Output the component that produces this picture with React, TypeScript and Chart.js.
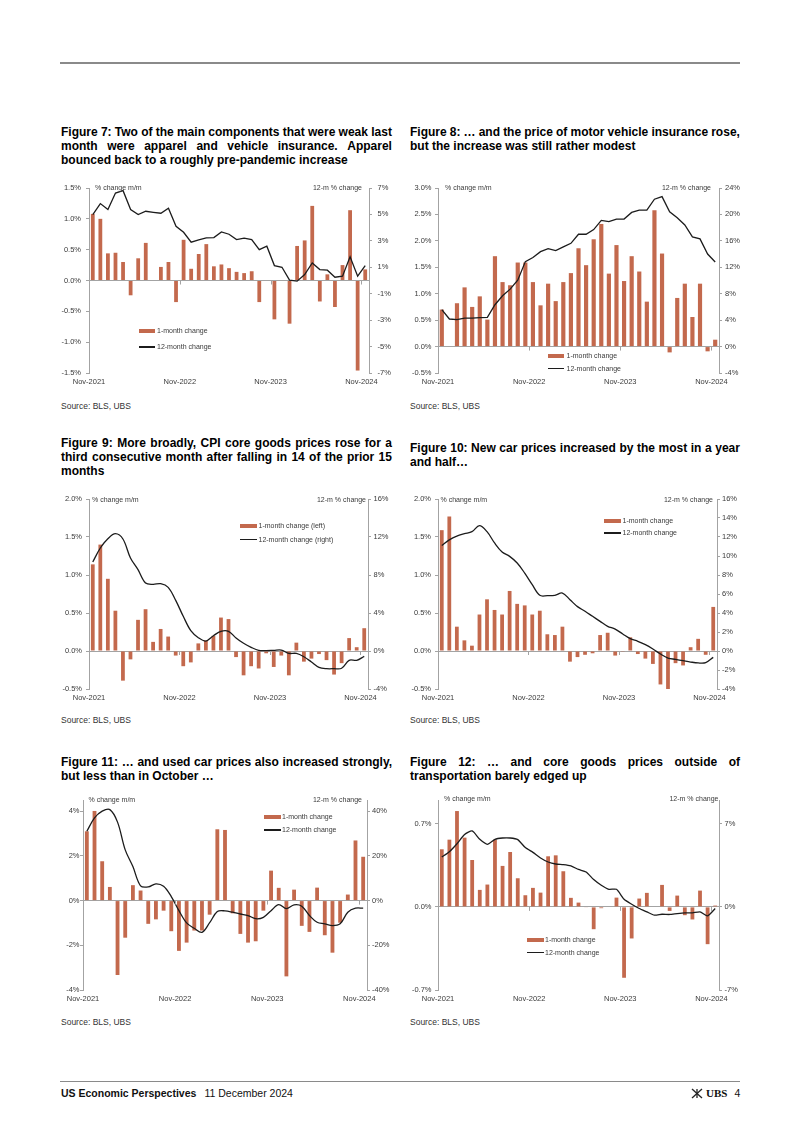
import React, { useEffect, useRef } from "react";
import { Chart, registerables } from "chart.js";

Chart.register(...registerables);

// ---------------- DATA ----------------
const months = [
  "Nov-2021", "Dec-2021",
  "Jan-2022", "Feb-2022", "Mar-2022", "Apr-2022", "May-2022", "Jun-2022",
  "Jul-2022", "Aug-2022", "Sep-2022", "Oct-2022", "Nov-2022", "Dec-2022",
  "Jan-2023", "Feb-2023", "Mar-2023", "Apr-2023", "May-2023", "Jun-2023",
  "Jul-2023", "Aug-2023", "Sep-2023", "Oct-2023", "Nov-2023", "Dec-2023",
  "Jan-2024", "Feb-2024", "Mar-2024", "Apr-2024", "May-2024", "Jun-2024",
  "Jul-2024", "Aug-2024", "Sep-2024", "Oct-2024", "Nov-2024",
];
const xTickLabels = ["Nov-2021", "Nov-2022", "Nov-2023", "Nov-2024"];

// Figure 7: apparel / vehicle insurance
const fig7Bars = [1.08, 1.0, 0.44, 0.45, 0.3, -0.24, 0.36, 0.61, 0.0, 0.22, 0.3, -0.35, 0.66, 0.19, 0.43, 0.59, 0.23, 0.26, 0.2, 0.14, 0.12, 0.15, -0.35, 0.0, -0.63, 0.0, -0.7, 0.56, 0.65, 1.21, -0.34, 0.1, -0.43, 0.25, 1.14, -1.46, 0.18];
const fig7Line = [4.99, 5.82, 5.37, 6.62, 6.8, 5.37, 4.99, 5.24, 5.16, 5.09, 5.47, 4.1, 3.65, 2.9, 3.07, 3.22, 3.25, 3.68, 3.5, 3.1, 3.2, 3.1, 2.34, 2.6, 1.13, 1.0, 0.03, -0.05, 0.45, 1.33, 0.83, 0.78, 0.25, 0.33, 1.79, 0.33, 1.13];
const fig7LeftTicks = [-1.5, -1.0, -0.5, 0, 0.5, 1.0, 1.5];
const fig7RightTicks = [-7, -5, -3, -1, 1, 3, 5, 7];

// Figure 8: motor vehicle insurance
const fig8Bars = [0.7, 0.0, 0.82, 1.12, 0.75, 0.95, 0.51, 1.71, 1.22, 1.16, 1.59, 1.59, 1.22, 0.78, 1.19, 0.86, 1.22, 1.39, 1.86, 1.54, 2.03, 2.32, 1.38, 1.92, 1.24, 1.71, 1.42, 0.85, 2.58, 1.76, -0.11, 0.92, 1.19, 0.56, 1.19, -0.09, 0.13];
const fig8Line = [5.58, 4.17, 4.07, 4.32, 4.32, 4.37, 4.42, 6.33, 7.69, 8.69, 10.05, 12.86, 13.47, 14.37, 14.82, 14.52, 15.08, 15.63, 17.0, 17.0, 17.7, 19.1, 18.9, 19.3, 19.3, 20.3, 20.65, 20.65, 22.3, 22.7, 20.4, 19.5, 18.4, 16.6, 16.3, 14.0, 12.8];
const fig8LeftTicks = [-0.5, 0, 0.5, 1.0, 1.5, 2.0, 2.5, 3.0];
const fig8RightTicks = [-4, 0, 4, 8, 12, 16, 20, 24];

// Figure 9: CPI core goods
const fig9Bars = [1.14, 1.4, 0.95, 0.53, -0.39, -0.11, 0.41, 0.55, 0.12, 0.29, 0.19, -0.06, -0.2, -0.15, 0.1, 0.14, 0.2, 0.44, 0.42, -0.08, -0.32, -0.2, -0.23, -0.03, -0.21, -0.06, -0.32, 0.11, -0.14, -0.1, -0.04, -0.12, -0.31, -0.16, 0.17, 0.05, 0.3];
const fig9Line = [9.37, 10.84, 11.82, 12.35, 11.79, 9.79, 8.56, 7.16, 7.02, 7.09, 6.7, 5.33, 3.65, 2.14, 1.4, 1.05, 1.61, 2.07, 2.07, 1.37, 0.81, 0.39, 0.07, 0.04, 0.07, 0.1, -0.25, -0.25, -0.6, -1.16, -1.72, -1.86, -1.86, -1.82, -0.98, -0.98, -0.56];
const fig9LeftTicks = [-0.5, 0, 0.5, 1.0, 1.5, 2.0];
const fig9RightTicks = [-4, 0, 4, 8, 12, 16];

// Figure 10: new cars
const fig10Bars = [1.59, 1.77, 0.32, 0.14, 0.07, 0.48, 0.68, 0.54, 0.48, 0.79, 0.62, 0.6, 0.48, 0.53, 0.22, 0.21, 0.32, -0.14, -0.08, -0.05, -0.03, 0.21, 0.24, -0.06, -0.01, 0.18, -0.04, -0.1, -0.17, -0.44, -0.5, -0.16, -0.19, 0.05, 0.16, -0.05, 0.58];
const fig10Line = [11.1, 11.7, 12.1, 12.35, 12.56, 13.2, 12.56, 11.37, 10.42, 9.96, 9.26, 8.2, 6.98, 5.86, 5.82, 5.86, 6.1, 5.4, 4.67, 4.18, 3.65, 3.12, 2.6, 2.3, 1.79, 1.3, 1.02, 0.67, 0.21, -0.32, -0.74, -0.88, -1.02, -1.16, -1.26, -1.23, -0.67];
const fig10LeftTicks = [-0.5, 0, 0.5, 1.0, 1.5, 2.0];
const fig10RightTicks = [-4, -2, 0, 2, 4, 6, 8, 10, 12, 14, 16];

// Figure 11: used cars
const fig11Bars = [3.1, 4.01, 1.76, 0.61, -3.33, -1.66, 0.69, 0.45, -1.04, -0.84, -0.45, -1.37, -2.25, -1.88, -1.34, -1.34, -0.63, 3.19, 3.16, -0.57, -1.49, -1.88, -1.82, -0.45, 1.34, 0.57, -3.39, 0.49, -1.13, -1.4, 0.58, -1.55, -2.33, -0.99, 0.27, 2.69, 1.96];
const fig11Line = [31.0, 37.0, 40.0, 40.7, 35.1, 22.7, 15.2, 6.6, 6.1, 7.5, 6.4, 1.8, -4.5, -10.0, -12.4, -14.2, -9.9, -4.9, -4.6, -5.2, -6.0, -6.7, -8.1, -7.5, -4.5, -1.8, -3.6, -1.9, -2.5, -6.7, -9.7, -10.4, -11.2, -10.4, -5.2, -3.4, -3.4];
const fig11LeftTicks = [-4, -2, 0, 2, 4];
const fig11RightTicks = [-40, -20, 0, 20, 40];

// Figure 12: core goods ex transportation
const fig12Bars = [0.485, 0.566, 0.807, 0.583, 0.395, 0.143, 0.188, 0.566, 0.345, 0.462, 0.241, 0.098, 0.16, 0.12, 0.426, 0.434, 0.3, 0.076, 0.036, -0.005, -0.188, -0.011, 0.0, 0.078, -0.597, -0.266, 0.07, 0.118, 0.0, 0.185, -0.034, 0.095, -0.07, -0.106, 0.137, -0.314, 0.011];
const fig12Line = [4.2, 4.65, 5.32, 6.1, 6.39, 5.69, 5.27, 5.69, 5.8, 5.8, 5.66, 4.99, 4.59, 4.12, 3.78, 3.61, 3.56, 3.45, 3.15, 2.94, 2.3, 1.82, 1.48, 1.48, 0.64, 0.22, -0.14, -0.42, -0.7, -0.62, -0.64, -0.56, -0.5, -0.5, -0.42, -0.76, -0.14];
const fig12LeftTicks = [-0.7, 0, 0.7];
const fig12RightTicks = [-7, 0, 7];

const legendStd = ["1-month change", "12-month change"];
const legendLR = ["1-month change (left)", "12-month change (right)"];

// ---------------- STYLE ----------------
const BAR = "#C3694D";
const LINE = "#1c1c1c";
const AXIS = "#a3a3a3";
const TXT = "#3a3a3a";
const FONT = '"Liberation Sans", Arial, Helvetica, sans-serif';

type PanelCfg = {
  box: { x: number; y: number; w: number; h: number };
  axisL: number;
  axisR: number;
  yTop: number;
  yBot: number;
  bars: number[];
  line: number[];
  lMin: number; lMax: number; lTicks: number[]; lDec: number;
  rMin: number; rMax: number; rTicks: number[]; rDec: number;
  gapL: number; gapR: number;
  tension: number;
  barPct: number;
  legend: string[];
  noteL: { x: number; y: number };
  noteR: { x: number; y: number };
  leg: { x: number; w: number; y1: number; y2: number; tx: number };
};

const panels: PanelCfg[] = [
  {
    box: { x: 55, y: 178, w: 345, h: 215 }, axisL: 89, axisR: 369, yTop: 188, yBot: 373,
    bars: fig7Bars, line: fig7Line,
    lMin: -1.5, lMax: 1.5, lTicks: fig7LeftTicks, lDec: 1,
    rMin: -7, rMax: 7, rTicks: fig7RightTicks, rDec: 0,
    gapL: 8, gapR: 8.5, tension: 0, barPct: 0.5, legend: legendStd,
    noteL: { x: 95, y: 188 }, noteR: { x: 362, y: 188 },
    leg: { x: 139, w: 16, y1: 331, y2: 347, tx: 157 },
  },
  {
    box: { x: 405, y: 178, w: 340, h: 215 }, axisL: 438, axisR: 719, yTop: 188, yBot: 373,
    bars: fig8Bars, line: fig8Line,
    lMin: -0.5, lMax: 3.0, lTicks: fig8LeftTicks, lDec: 1,
    rMin: -4, rMax: 24, rTicks: fig8RightTicks, rDec: 0,
    gapL: 6.5, gapR: 6, tension: 0, barPct: 0.55, legend: legendStd,
    noteL: { x: 445, y: 188 }, noteR: { x: 711, y: 188 },
    leg: { x: 548, w: 16, y1: 356, y2: 368.5, tx: 566.5 },
  },
  {
    box: { x: 55, y: 489, w: 345, h: 215 }, axisL: 89, axisR: 368, yTop: 499, yBot: 689,
    bars: fig9Bars, line: fig9Line,
    lMin: -0.5, lMax: 2.0, lTicks: fig9LeftTicks, lDec: 1,
    rMin: -4, rMax: 16, rTicks: fig9RightTicks, rDec: 0,
    gapL: 7, gapR: 5.5, tension: 0.35, barPct: 0.5, legend: legendLR,
    noteL: { x: 92, y: 499.5 }, noteR: { x: 366, y: 499.5 },
    leg: { x: 240, w: 17, y1: 525.5, y2: 539.5, tx: 258.5 },
  },
  {
    box: { x: 405, y: 489, w: 340, h: 215 }, axisL: 438, axisR: 717, yTop: 499, yBot: 689,
    bars: fig10Bars, line: fig10Line,
    lMin: -0.5, lMax: 2.0, lTicks: fig10LeftTicks, lDec: 1,
    rMin: -4, rMax: 16, rTicks: fig10RightTicks, rDec: 0,
    gapL: 7, gapR: 5, tension: 0.35, barPct: 0.5, legend: legendStd,
    noteL: { x: 440.5, y: 499.5 }, noteR: { x: 713, y: 499.5 },
    leg: { x: 604, w: 17, y1: 521, y2: 533, tx: 622.5 },
  },
  {
    box: { x: 55, y: 790, w: 345, h: 215 }, axisL: 83, axisR: 367, yTop: 800, yBot: 990,
    bars: fig11Bars, line: fig11Line,
    lMin: -4, lMax: 4.5, lTicks: fig11LeftTicks, lDec: 0,
    rMin: -40, rMax: 45, rTicks: fig11RightTicks, rDec: 0,
    gapL: 3.5, gapR: 5, tension: 0.35, barPct: 0.5, legend: legendStd,
    noteL: { x: 88.5, y: 799.5 }, noteR: { x: 362, y: 799.5 },
    leg: { x: 263.5, w: 17, y1: 817, y2: 830, tx: 282 },
  },
  {
    box: { x: 405, y: 790, w: 340, h: 215 }, axisL: 438, axisR: 719, yTop: 800, yBot: 990,
    bars: fig12Bars, line: fig12Line,
    lMin: -0.7, lMax: 0.9, lTicks: fig12LeftTicks, lDec: 1,
    rMin: -7, rMax: 9, rTicks: fig12RightTicks, rDec: 0,
    gapL: 6.5, gapR: 5.5, tension: 0.2, barPct: 0.5, legend: legendStd,
    noteL: { x: 444, y: 799 }, noteR: { x: 718.5, y: 799 },
    leg: { x: 526.5, w: 17, y1: 940, y2: 952.5, tx: 545 },
  },
];

const titles = [
  { x: 61, y: 125, w: 331, lines: ["Figure 7: Two of the main components that were weak last", "month were apparel and vehicle insurance. Apparel", "bounced back to a roughly pre-pandemic increase"] },
  { x: 410, y: 125, w: 330, lines: ["Figure 8: … and the price of motor vehicle insurance rose,", "but the increase was still rather modest"] },
  { x: 61, y: 436, w: 331, lines: ["Figure 9: More broadly, CPI core goods prices rose for a", "third consecutive month after falling in 14 of the prior 15", "months"] },
  { x: 410, y: 441, w: 330, lines: ["Figure 10: New car prices increased by the most in a year", "and half…"] },
  { x: 61, y: 755, w: 331, lines: ["Figure 11: … and used car prices also increased strongly,", "but less than in October …"] },
  { x: 410, y: 755, w: 330, lines: ["Figure 12: … and core goods prices outside of", "transportation barely edged up"] },
];

const sources = [
  { x: 61, y: 406 }, { x: 410, y: 406 },
  { x: 61, y: 720 }, { x: 410, y: 720 },
  { x: 61, y: 1022 }, { x: 410, y: 1022 },
];

function fmt(v: number, dec: number) {
  return (Math.abs(v) < 1e-9 ? 0 : v).toFixed(dec) + "%";
}

function buildChart(canvas: HTMLCanvasElement, p: PanelCfg) {
  const n = months.length;
  const half = (p.axisR - p.axisL) / n / 2;
  const tickIdx = xTickLabels.map((l) => months.indexOf(l));
  const tickFont = { family: FONT, size: 7.5 };
  const zeroTicks = {
    id: "zeroTicks",
    afterDatasetsDraw(chart: any) {
      const xs = chart.scales.x;
      const ys = chart.scales.y;
      const y0 = ys.getPixelForValue(0);
      const ctx = chart.ctx;
      ctx.save();
      ctx.strokeStyle = AXIS;
      ctx.lineWidth = 1;
      ctx.beginPath();
      tickIdx.forEach((i) => {
        const px = Math.round(xs.getPixelForValue(i) - half) + 0.5;
        ctx.moveTo(px, y0);
        ctx.lineTo(px, y0 + 4);
      });
      ctx.stroke();
      ctx.restore();
    },
  };
  return new Chart(canvas, {
    type: "bar",
    data: {
      labels: months,
      datasets: [
        {
          type: "line",
          label: p.legend[1],
          data: p.line,
          yAxisID: "y1",
          borderColor: LINE,
          borderWidth: 1.3,
          pointRadius: 0,
          tension: p.tension,
          order: 0,
        } as any,
        {
          type: "bar",
          label: p.legend[0],
          data: p.bars,
          yAxisID: "y",
          backgroundColor: BAR,
          barPercentage: p.barPct,
          categoryPercentage: 1,
          order: 1,
        } as any,
      ],
    },
    options: {
      responsive: false,
      maintainAspectRatio: false,
      animation: false,
      devicePixelRatio: 1,
      layout: { padding: { top: p.yTop - p.box.y, left: 0, right: 0, bottom: 0 } },
      plugins: { legend: { display: false }, tooltip: { enabled: false } },
      scales: {
        x: {
          type: "category",
          offset: true,
          grid: { display: false, drawTicks: false, offset: true },
          border: { display: false },
          ticks: {
            autoSkip: false,
            maxRotation: 0,
            minRotation: 0,
            padding: 4,
            labelOffset: -half,
            font: tickFont,
            color: TXT,
            callback: (_v: any, i: number) => (tickIdx.includes(i) ? months[i] : null),
          },
          afterFit: (s: any) => {
            s.height = p.box.y + p.box.h - p.yBot;
          },
        },
        y: {
          type: "linear",
          position: "left",
          min: p.lMin,
          max: p.lMax,
          afterBuildTicks: (s: any) => {
            s.ticks = p.lTicks.map((v) => ({ value: v }));
          },
          afterFit: (s: any) => {
            s.width = p.axisL - p.box.x;
          },
          ticks: {
            font: tickFont,
            color: TXT,
            padding: p.gapL - 3,
            callback: (v: any) => fmt(Number(v), p.lDec),
          },
          grid: {
            color: (c: any) => (c.tick && Math.abs(c.tick.value) < 1e-9 ? AXIS : "rgba(0,0,0,0)"),
            tickColor: AXIS,
            tickLength: 3,
            lineWidth: 1,
          },
          border: { display: true, color: AXIS, width: 1 },
        },
        y1: {
          type: "linear",
          position: "right",
          min: p.rMin,
          max: p.rMax,
          afterBuildTicks: (s: any) => {
            s.ticks = p.rTicks.map((v) => ({ value: v }));
          },
          afterFit: (s: any) => {
            s.width = p.box.x + p.box.w - p.axisR;
          },
          ticks: {
            font: tickFont,
            color: TXT,
            padding: p.gapR - 3,
            callback: (v: any) => fmt(Number(v), p.rDec),
          },
          grid: { drawOnChartArea: false, tickColor: AXIS, tickLength: 3, color: AXIS },
          border: { display: true, color: AXIS, width: 1 },
        },
      },
    } as any,
    plugins: [zeroTicks],
  });
}

function Panel({ p }: { p: PanelCfg }) {
  const ref = useRef<HTMLCanvasElement>(null);
  useEffect(() => {
    if (!ref.current) return;
    const c = buildChart(ref.current, p);
    return () => c.destroy();
  }, [p]);
  const small: React.CSSProperties = {
    position: "absolute",
    font: `7px ${FONT}`,
    color: TXT,
    lineHeight: "10px",
    height: 10,
    whiteSpace: "nowrap",
  };
  return (
    <>
      <canvas
        ref={ref}
        width={p.box.w}
        height={p.box.h}
        style={{ position: "absolute", left: p.box.x, top: p.box.y, width: p.box.w, height: p.box.h }}
      />
      <div style={{ ...small, left: p.noteL.x, top: p.noteL.y - 5 }}>% change m/m</div>
      <div style={{ ...small, right: 802 - p.noteR.x, top: p.noteR.y - 5, textAlign: "right" }}>12-m % change</div>
      <div style={{ position: "absolute", left: p.leg.x, top: p.leg.y1 - 2, width: p.leg.w, height: 4, background: BAR }} />
      <div style={{ ...small, left: p.leg.tx, top: p.leg.y1 - 5 }}>{p.legend[0]}</div>
      <div style={{ position: "absolute", left: p.leg.x, top: p.leg.y2 - 0.7, width: p.leg.w, height: 1.4, background: LINE }} />
      <div style={{ ...small, left: p.leg.tx, top: p.leg.y2 - 5 }}>{p.legend[1]}</div>
    </>
  );
}

function Title({ t }: { t: { x: number; y: number; w: number; lines: string[] } }) {
  return (
    <div
      style={{
        position: "absolute",
        left: t.x,
        top: t.y,
        width: t.w,
        font: `bold 12px ${FONT}`,
        lineHeight: "14px",
        color: "#000",
      }}
    >
      {t.lines.map((l, i) => {
        const last = i === t.lines.length - 1;
        if (last) {
          return (
            <div key={i} style={{ whiteSpace: "nowrap" }}>
              {l}
            </div>
          );
        }
        return (
          <div key={i} style={{ display: "flex", justifyContent: "space-between", whiteSpace: "nowrap" }}>
            {l.split(" ").map((w, j) => (
              <span key={j}>{w}</span>
            ))}
          </div>
        );
      })}
    </div>
  );
}

export default function App() {
  return (
    <div
      style={{
        position: "absolute",
        left: 0,
        top: 0,
        width: 802,
        height: 1134,
        background: "#fff",
        overflow: "hidden",
        fontFamily: FONT,
      }}
    >
      <div style={{ position: "absolute", left: 60, top: 62, width: 680, height: 1.5, background: "#8a8a8a" }} />
      {titles.map((t, i) => (
        <Title key={i} t={t} />
      ))}
      {panels.map((p, i) => (
        <Panel key={i} p={p} />
      ))}
      {sources.map((s, i) => (
        <div
          key={i}
          style={{
            position: "absolute",
            left: s.x,
            top: s.y - 6,
            font: `8.5px ${FONT}`,
            lineHeight: "12px",
            color: "#333",
            whiteSpace: "nowrap",
          }}
        >
          Source: BLS, UBS
        </div>
      ))}
      <div style={{ position: "absolute", left: 60, top: 1081, width: 680, height: 1, background: "#8a8a8a" }} />
      <div
        style={{
          position: "absolute",
          left: 61,
          top: 1086,
          lineHeight: "14px",
          fontSize: 10.5,
          color: "#111",
          whiteSpace: "nowrap",
        }}
      >
        <span style={{ fontWeight: "bold" }}>US Economic Perspectives</span>
        <span style={{ marginLeft: 8 }}>11 December 2024</span>
      </div>
      <div
        style={{
          position: "absolute",
          left: 690,
          top: 1086,
          lineHeight: "14px",
          whiteSpace: "nowrap",
          display: "flex",
          alignItems: "center",
        }}
      >
        <svg width="14" height="11" viewBox="0 0 14 11" style={{ marginRight: 2 }}>
          <g stroke="#222" strokeWidth="1.3" fill="none">
            <line x1="2" y1="10" x2="12" y2="1" />
            <line x1="12" y1="10" x2="2" y2="1" />
            <line x1="7" y1="10" x2="7" y2="1" />
          </g>
        </svg>
        <span style={{ font: `bold 11px "Liberation Serif", serif`, color: "#111" }}>UBS</span>
        <span style={{ fontSize: 10.5, marginLeft: 7, color: "#111" }}>4</span>
      </div>
    </div>
  );
}
